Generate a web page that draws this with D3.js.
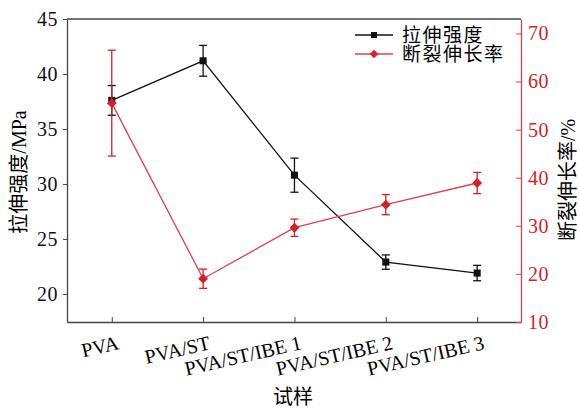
<!DOCTYPE html>
<html>
<head>
<meta charset="utf-8">
<script src="https://cdn.jsdelivr.net/npm/d3@7"></script>
<style>
  body { margin: 0; background: #fff; }
  svg { display: block; }
</style>
</head>
<body>
<svg id="chart" width="579" height="410"></svg>
<script>
const samples = ["PVA", "PVA/ST", "PVA/ST/IBE 1", "PVA/ST/IBE 2", "PVA/ST/IBE 3"];
const strength = [37.6, 41.2, 30.8, 22.9, 21.9];
const strengthErr = [1.35, 1.4, 1.55, 0.65, 0.7];
const elongation = [55.5, 19.0, 29.6, 34.4, 38.9];
const elongationErr = [11.0, 2.0, 1.8, 2.1, 2.2];
const leftTicks = [20, 25, 30, 35, 40, 45];
const rightTicks = [10, 20, 30, 40, 50, 60, 70];

const serif = "'Liberation Serif', 'DejaVu Serif', serif";
const cjk = "'Liberation Serif', 'Noto Sans CJK SC', serif";

const black = "#111";
const red = "#d81e28";
const redLine = "#e0404c";
const frame = "#444";

const mLeft = 67, mRight = 521, mTop = 19, mBottom = 322;

const svg = d3.select("#chart");

const x = d3.scaleLinear().domain([-0.49, 4.48]).range([mLeft, mRight]);
const yL = d3.scaleLinear().domain([17.45, 45]).range([mBottom, mTop]);
const yR = d3.scaleLinear().domain([10, 73]).range([mBottom, mTop]);

// frame
svg.append("line").attr("x1", mLeft).attr("x2", mRight).attr("y1", mTop).attr("y2", mTop)
    .attr("stroke", frame).attr("stroke-width", 1.3);

// left axis
const gL = svg.append("g").attr("transform", `translate(${mLeft},0)`)
    .call(d3.axisLeft(yL).tickValues(leftTicks).tickSize(4).tickPadding(5).tickSizeOuter(0))
    .attr("font-family", serif).attr("font-size", 20);
gL.select(".domain").attr("stroke", frame).attr("stroke-width", 1.3);
gL.selectAll(".tick line").attr("stroke", frame);
gL.selectAll(".tick text").attr("fill", "#111").attr("letter-spacing", 0.5);

// bottom axis
const gB = svg.append("g").attr("transform", `translate(0,${mBottom})`)
    .call(d3.axisBottom(x).tickValues(d3.range(samples.length)).tickSize(-5).tickSizeOuter(0).tickFormat(""));
gB.select(".domain").attr("stroke", frame).attr("stroke-width", 1.3);
gB.selectAll(".tick line").attr("stroke", frame);

svg.append("g").selectAll("text")
    .data(samples)
    .join("text")
    .attr("font-family", serif)
    .attr("font-size", 20)
    .attr("text-anchor", "end")
    .attr("transform", (d, i) => `translate(${x(i) + 8},${mBottom + 27}) rotate(-13)`)
    .text(d => d);

// right axis
const gR = svg.append("g").attr("transform", `translate(${mRight},0)`)
    .call(d3.axisRight(yR).tickValues(rightTicks).tickSize(-5).tickPadding(7).tickSizeOuter(0))
    .attr("font-family", serif).attr("font-size", 20);
gR.select(".domain").attr("stroke", redLine).attr("stroke-width", 1.3);
gR.selectAll(".tick line").attr("stroke", redLine);
gR.selectAll(".tick text").attr("fill", red).attr("letter-spacing", 0.5);

// axis titles
svg.append("text").attr("font-family", cjk).attr("font-size", 20)
    .attr("text-anchor", "middle")
    .attr("transform", `translate(26,172) rotate(-90)`)
    .text("拉伸强度/MPa");
svg.append("text").attr("font-family", cjk).attr("font-size", 20)
    .attr("text-anchor", "middle")
    .attr("transform", `translate(575,180) rotate(-90)`)
    .text("断裂伸长率/%");
svg.append("text").attr("font-family", cjk).attr("font-size", 20)
    .attr("text-anchor", "middle")
    .attr("x", 293).attr("y", 404)
    .text("试样");

// series
function drawSeries(values, errs, y, lineColor, markColor, size, rot) {
    const g = svg.append("g");
    g.append("path")
        .datum(values)
        .attr("fill", "none")
        .attr("stroke", lineColor)
        .attr("stroke-width", 1.3)
        .attr("d", d3.line().x((d, i) => x(i)).y(d => y(d)));
    const eb = g.selectAll(".err").data(values).join("g").attr("class", "err")
        .attr("stroke", markColor).attr("stroke-width", 1.3);
    eb.append("line").attr("x1", (d, i) => x(i)).attr("x2", (d, i) => x(i))
        .attr("y1", (d, i) => y(d + errs[i])).attr("y2", (d, i) => y(d - errs[i]));
    eb.append("line").attr("x1", (d, i) => x(i) - 4).attr("x2", (d, i) => x(i) + 4)
        .attr("y1", (d, i) => y(d + errs[i])).attr("y2", (d, i) => y(d + errs[i]));
    eb.append("line").attr("x1", (d, i) => x(i) - 4).attr("x2", (d, i) => x(i) + 4)
        .attr("y1", (d, i) => y(d - errs[i])).attr("y2", (d, i) => y(d - errs[i]));
    g.selectAll(".mark").data(values).join("path")
        .attr("d", d3.symbol().type(d3.symbolSquare).size(size))
        .attr("fill", markColor)
        .attr("transform", (d, i) => `translate(${x(i)},${y(d)}) rotate(${rot})`);
}

drawSeries(strength, strengthErr, yL, black, black, 50, 0);
drawSeries(elongation, elongationErr, yR, redLine, red, 48, 45);

// legend
const legendItems = [
    { label: "拉伸强度", line: black, mark: black, y: 35, rot: 0 },
    { label: "断裂伸长率", line: redLine, mark: red, y: 54, rot: 45 }
];
const lg = svg.append("g").selectAll("g").data(legendItems).join("g");
lg.append("line").attr("x1", 355).attr("x2", 393).attr("y1", d => d.y).attr("y2", d => d.y)
    .attr("stroke", d => d.line).attr("stroke-width", 1.3);
lg.append("path").attr("d", d3.symbol().type(d3.symbolSquare).size(36))
    .attr("fill", d => d.mark)
    .attr("transform", d => `translate(374,${d.y}) rotate(${d.rot})`);
lg.append("text").attr("font-family", cjk).attr("font-size", 19)
    .attr("letter-spacing", 1.5)
    .attr("x", 402).attr("y", d => d.y).attr("dy", "0.36em")
    .text(d => d.label);
</script>
</body>
</html>
